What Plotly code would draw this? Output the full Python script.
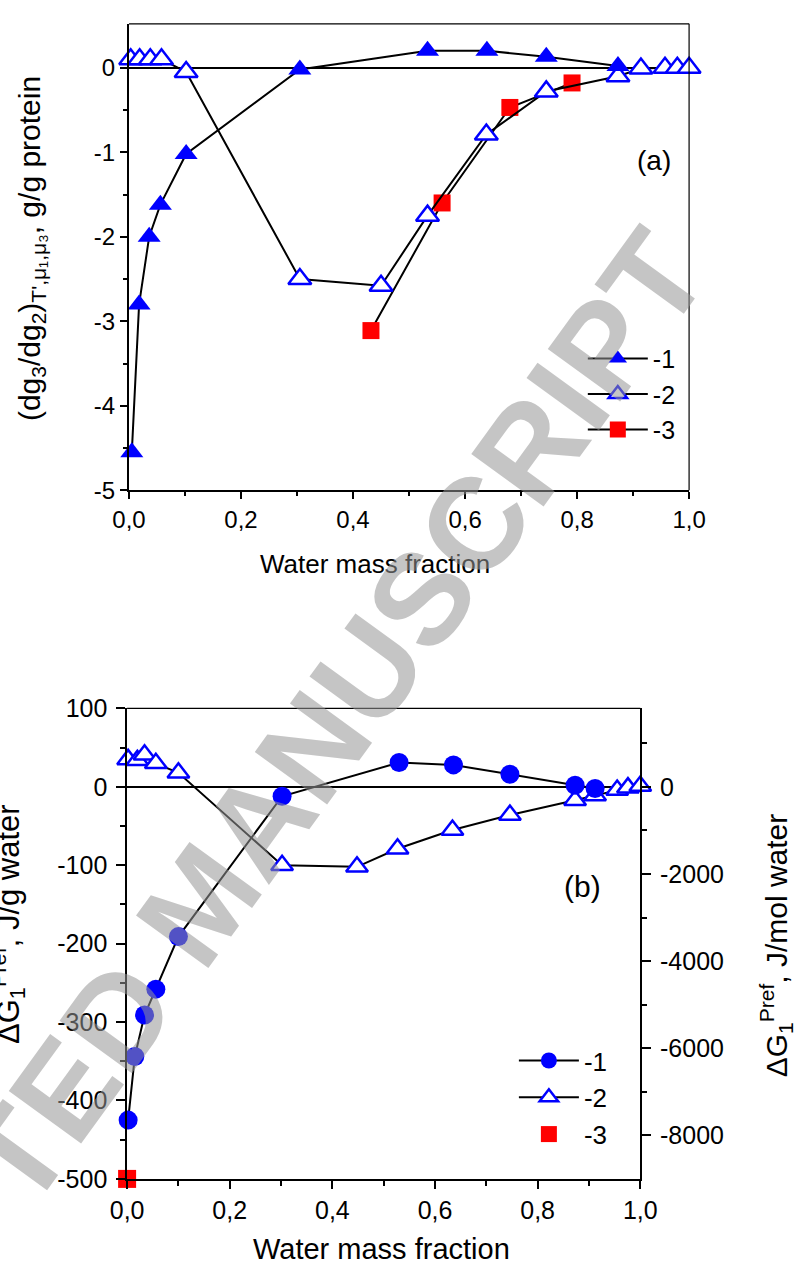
import plotly.graph_objects as go

W, H = 798, 1278
FONT = "Arial, Liberation Sans, sans-serif"
BLUE = "#0000ff"
RED = "#ff0000"

# ---------- panel (a): (dg3/dg2) vs water mass fraction ----------
a1_x = [0.005, 0.018, 0.036, 0.056, 0.102, 0.305, 0.533, 0.639, 0.745, 0.873]
a1_y = [-4.55, -2.80, -2.00, -1.62, -1.02, -0.02, 0.20, 0.20, 0.13, 0.02]

a2_x = [0.003, 0.019, 0.038, 0.058, 0.102, 0.305, 0.450, 0.533, 0.638, 0.745,
        0.873, 0.914, 0.957, 0.979, 1.000]
a2_y = [0.10, 0.10, 0.10, 0.10, -0.05, -2.50, -2.58, -1.75, -0.79, -0.28,
        -0.10, -0.01, 0.00, 0.00, 0.00]

a3_x = [0.432, 0.559, 0.680, 0.791]
a3_y = [-3.11, -1.60, -0.47, -0.18]

# ---------- panel (b): Gibbs energy vs water mass fraction ----------
b1_x = [0.002, 0.015, 0.034, 0.056, 0.100, 0.302, 0.530, 0.636, 0.746, 0.873, 0.912]
b1_y = [-425, -344, -291, -258, -191, -12, 31, 28, 16, 2, -2]

b2_x = [0.002, 0.020, 0.034, 0.056, 0.100, 0.302, 0.448, 0.527, 0.634, 0.746,
        0.873, 0.912, 0.955, 0.976, 1.000]
b2_y = [35, 34, 41, 30, 18, -100, -102, -79, -55, -36, -17, -11, -4, -1, 1]

b3_x = [0.0]
b3_y = [-500]

# molar mass of water, J/g -> J/mol for the right-hand scale
M_WATER = 18

# tick values / labels
x_ticks = [0.0, 0.2, 0.4, 0.6, 0.8, 1.0]
x_ticktext = ["0,0", "0,2", "0,4", "0,6", "0,8", "1,0"]
x_minor = [0.1, 0.3, 0.5, 0.7, 0.9]
ya_ticks = [-5, -4, -3, -2, -1, 0]
ya_ticktext = ["-5", "-4", "-3", "-2", "-1", "0"]
ya_minor = [-4.5, -3.5, -2.5, -1.5, -0.5]
yb_ticks = [-500, -400, -300, -200, -100, 0, 100]
yb_ticktext = ["-500", "-400", "-300", "-200", "-100", "0", "100"]
yb_minor = [-450, -350, -250, -150, -50, 50]
yr_ticks = [-8000, -6000, -4000, -2000, 0]
yr_ticktext = ["-8000", "-6000", "-4000", "-2000", "0"]
yr_minor = [-7000, -5000, -3000, -1000, 1000]


def px_x(p):
    return p / W


def px_y(p):
    return 1 - p / H


fig = go.Figure()

# panel (a) traces
fig.add_trace(go.Scatter(
    x=a3_x, y=a3_y, mode="lines+markers", name="-3", xaxis="x", yaxis="y",
    line=dict(color="black", width=2), cliponaxis=False,
    marker=dict(symbol="square", size=17, color=RED), legend="legend"))
fig.add_trace(go.Scatter(
    x=a2_x, y=a2_y, mode="lines+markers", name="-2", xaxis="x", yaxis="y",
    line=dict(color="black", width=2), cliponaxis=False,
    marker=dict(symbol="triangle-up", size=20, color="white",
                line=dict(color=BLUE, width=2.5)), legend="legend"))
fig.add_trace(go.Scatter(
    x=a1_x, y=a1_y, mode="lines+markers", name="-1", xaxis="x", yaxis="y",
    line=dict(color="black", width=2), cliponaxis=False,
    marker=dict(symbol="triangle-up", size=20, color=BLUE), legend="legend"))

# panel (b) traces
fig.add_trace(go.Scatter(
    x=b3_x, y=b3_y, mode="markers", name="-3", xaxis="x2", yaxis="y2",
    cliponaxis=False,
    marker=dict(symbol="square", size=18, color=RED), legend="legend2"))
fig.add_trace(go.Scatter(
    x=b2_x, y=b2_y, mode="lines+markers", name="-2", xaxis="x2", yaxis="y2",
    line=dict(color="black", width=2), cliponaxis=False,
    marker=dict(symbol="triangle-up", size=19, color="white",
                line=dict(color=BLUE, width=2.5)), legend="legend2"))
fig.add_trace(go.Scatter(
    x=b1_x, y=b1_y, mode="lines+markers", name="-1", xaxis="x2", yaxis="y2",
    line=dict(color="black", width=2), cliponaxis=False,
    marker=dict(symbol="circle", size=19, color=BLUE), legend="legend2"))
# the same curve in J/mol, carried by the right-hand axis (not drawn)
fig.add_trace(go.Scatter(
    x=b1_x, y=[v * M_WATER for v in b1_y], mode="none", xaxis="x2", yaxis="y3",
    showlegend=False, hoverinfo="skip"))

tickfont_a = dict(family=FONT, size=24, color="black")
tickfont_b = dict(family=FONT, size=25, color="black")

common_axis = dict(showline=True, linecolor="black", showgrid=False,
                   ticks="outside", tickcolor="black", tickwidth=1.5)

fig.update_layout(
    width=W, height=H,
    margin=dict(l=0, r=0, t=0, b=0),
    paper_bgcolor="white", plot_bgcolor="white",
    font=dict(family=FONT, color="black"),
    xaxis=dict(domain=[px_x(117), px_x(702)], range=[0, 1], anchor="y",
               linewidth=2, ticklen=7, zeroline=False,
               tickmode="array", tickvals=x_ticks, ticktext=x_ticktext,
               minor=dict(tickmode="array", tickvals=x_minor, ticks="outside",
                          ticklen=4, tickwidth=1.5, tickcolor="black"),
               tickfont=tickfont_a, **common_axis),
    yaxis=dict(domain=[px_y(487), px_y(10)], range=[-5, 0.52], anchor="x",
               linewidth=2, ticklen=7,
               zeroline=True, zerolinecolor="black", zerolinewidth=1.5,
               tickmode="array", tickvals=ya_ticks, ticktext=ya_ticktext,
               minor=dict(tickmode="array", tickvals=ya_minor, ticks="outside",
                          ticklen=4, tickwidth=1.5, tickcolor="black"),
               tickfont=tickfont_a, **common_axis),
    xaxis2=dict(domain=[px_x(115), px_x(651)], range=[0, 1], anchor="y2",
                linewidth=2, ticklen=8, zeroline=False,
                tickmode="array", tickvals=x_ticks, ticktext=x_ticktext,
                minor=dict(tickmode="array", tickvals=x_minor, ticks="outside",
                           ticklen=5, tickwidth=1.5, tickcolor="black"),
                tickfont=tickfont_b, **common_axis),
    yaxis2=dict(domain=[px_y(1191), px_y(710)], range=[-500, 100], anchor="x2",
                linewidth=1.5, ticklen=9,
                zeroline=True, zerolinecolor="black", zerolinewidth=1.5,
                tickmode="array", tickvals=yb_ticks, ticktext=yb_ticktext,
                minor=dict(tickmode="array", tickvals=yb_minor, ticks="outside",
                           ticklen=5, tickwidth=1.5, tickcolor="black"),
                ticklabelstandoff=4,
                tickfont=tickfont_b, **common_axis),
    yaxis3=dict(overlaying="y2", side="right", anchor="x2",
                range=[-500 * M_WATER, 100 * M_WATER], linewidth=1.5, ticklen=9,
                zeroline=False,
                tickmode="array", tickvals=yr_ticks, ticktext=yr_ticktext,
                minor=dict(tickmode="array", tickvals=yr_minor, ticks="outside",
                           ticklen=5, tickwidth=1.5, tickcolor="black"),
                ticklabelstandoff=4,
                tickfont=tickfont_b, **common_axis),
    legend=dict(x=px_x(591), y=px_y(329), xanchor="left", yanchor="top",
                bgcolor="rgba(0,0,0,0)", borderwidth=0, traceorder="reversed",
                font=dict(family=FONT, size=25, color="black"),
                itemwidth=60, tracegroupgap=0),
    legend2=dict(x=px_x(519), y=px_y(1046), xanchor="left", yanchor="top",
                 bgcolor="rgba(0,0,0,0)", borderwidth=0, traceorder="reversed",
                 font=dict(family=FONT, size=26, color="black"),
                 itemwidth=60, tracegroupgap=0),
    showlegend=True,
)

# thin frame lines on the top/right sides
fig.add_shape(type="line", xref="x domain", yref="y domain", x0=0, x1=1, y0=1, y1=1,
              line=dict(color="black", width=1.2))
fig.add_shape(type="line", xref="x domain", yref="y domain", x0=1, x1=1, y0=0, y1=1,
              line=dict(color="black", width=1.2))
fig.add_shape(type="line", xref="x2 domain", yref="y2 domain", x0=0, x1=1, y0=1, y1=1,
              line=dict(color="black", width=1.2))


def label(text, xp, yp, size, angle=0, color="black", weight=None):
    f = dict(family=FONT, size=size, color=color)
    if weight:
        f["weight"] = weight
    fig.add_annotation(text=text, x=px_x(xp), y=px_y(yp), xref="paper", yref="paper",
                       showarrow=False, textangle=angle, xanchor="center",
                       yanchor="middle", font=f)


label("(dg<sub>3</sub>/dg<sub>2</sub>)<sub>T',μ₁,μ₃</sub>, g/g protein", 15, 240, 30, -90)
label("Water mass fraction", 374, 562, 26)
label("(a)", 665, 150, 28)

label("ΔG<sub>1</sub><sup>Pref</sup>, J/g water", -9, 930, 31, -90)
label("ΔG<sub>1</sub><sup>Pref</sup>, J/mol water", 793, 952, 30, -90)
label("Water mass fraction", 381, 1263, 29)
label("(b)", 591, 892, 30)

# diagonal manuscript stamp
label("ACCEPTED MANUSCRIPT", 192, 908, 130, -54,
      color="rgba(150,150,150,0.55)", weight="bold")

fig.write_html("out.html")
